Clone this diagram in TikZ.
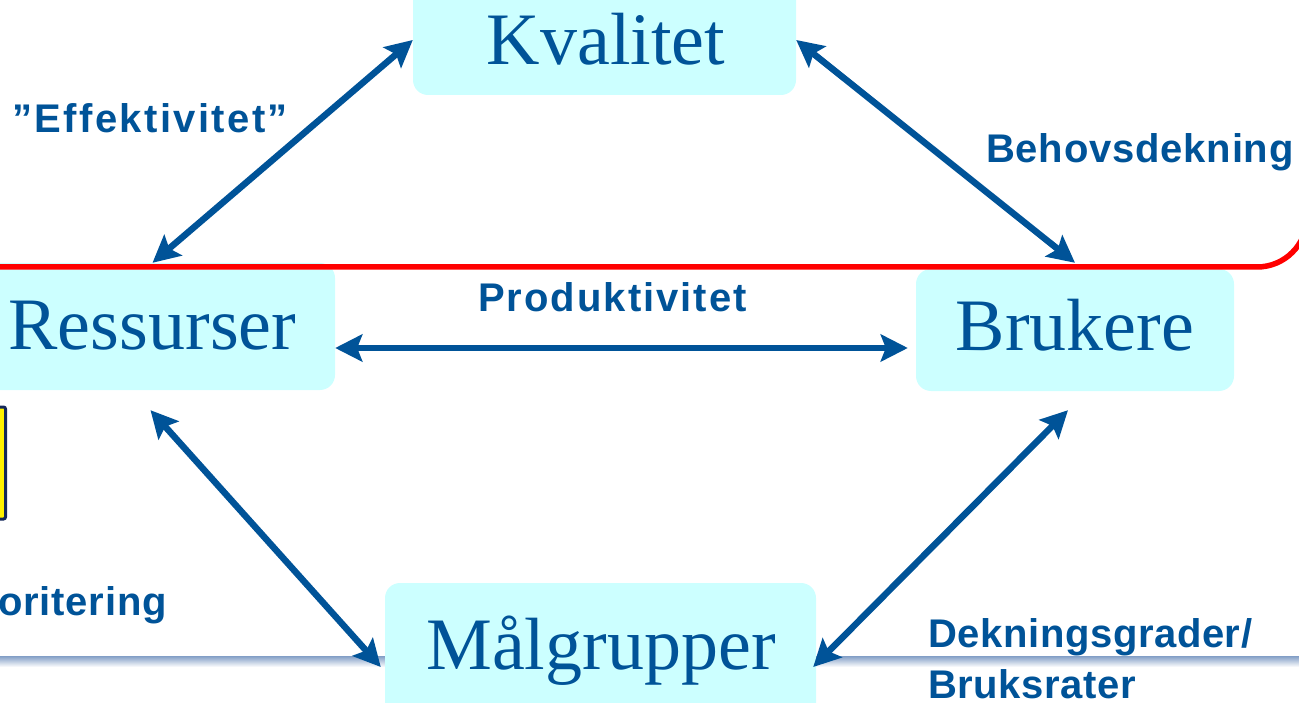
\documentclass[tikz,border=0pt]{standalone}
\usepackage{fontspec}
\setmainfont{Liberation Serif}
\newfontfamily\lblfont{Liberation Sans}
\usetikzlibrary{arrows.meta,calc}
\definecolor{boxc}{RGB}{204,255,255}
\definecolor{blu}{RGB}{0,83,152}
\definecolor{navy}{RGB}{20,40,90}
\definecolor{steel}{RGB}{130,158,198}
\tikzset{
  box/.style={fill=boxc, draw=none, rounded corners=15pt, inner sep=0pt},
  big/.style={text=blu, inner sep=0pt, anchor=base, font=\fontsize{74}{80}\selectfont},
  lbl/.style={text=blu, inner sep=0pt, font=\fontsize{40}{44}\lblfont\bfseries\addfontfeature{LetterSpace=#1}},
  arr/.style={draw=blu, line width=6.5pt, {Stealth[length=27pt,width=27pt,inset=5pt]}-{Stealth[length=27pt,width=27pt,inset=5pt]}},
  redline/.style={draw=red, line width=5.5pt}
}
\begin{document}
\begin{tikzpicture}[x=1pt,y=-1pt]
\useasboundingbox (0,0) rectangle (1299,703);
% bottom gradient rule
\shade[top color=steel, bottom color=white] (0,656) rectangle (1299,667);
% yellow box at left edge
\draw[draw=navy, fill=yellow, line width=3pt, rounded corners=2pt] (-20,407) rectangle (5.5,519);
% boxes
\node[box, minimum width=383pt, minimum height=110pt] (kv) at (604.5,40) {};
\node[box, minimum width=365pt, minimum height=127pt] (res) at (152.5,326.5) {};
\node[box, minimum width=318pt, minimum height=122pt] (bru) at (1075,330) {};
\node[box, minimum width=431pt, minimum height=147pt] (mal) at (600.5,656.5) {};
% box texts
\node[big] (kvt) at (606,65) {Kvalitet};
\node[big] (rest) at (152.5,350) {Ressurser};
\node[big] (brut) at (1075,351) {Brukere};
\node[big] (malt) at (601,669) {Målgrupper};
% red line
\draw[redline, rounded corners=50pt] (-10,267) -- (1307,267) -- (1307,-10);
% arrows
\draw[arr] (res.north) -- (kv.west);
\draw[arr] (kv.east) -- ($(bru.north)+(0,-6)$);
\draw[arr] ($(res.east)+(0,21.5)$) -- ($(bru.west)+(-8,18)$);
\draw[arr] ($(res.south)+(-2,20)$) -- ($(mal.west)+(-4,10.5)$);
\draw[arr] ($(bru.south)+(-7,19)$) -- ($(mal.east)+(-3,10.5)$);
% labels
\node[lbl=6, anchor=base west] (eff) at (12,133) {”Effektivitet”};
\node[lbl=2, anchor=base west] (beh) at (986,163) {Behovsdekning};
\node[lbl=5, anchor=base west] (prod) at (478,312) {Produktivitet};
\node[lbl=2, anchor=base east] (pri) at (167,615) {oritering};
\node[lbl=1.5, anchor=base west] (dek) at (928,647) {Dekningsgrader/};
\node[lbl=1.5, anchor=base west, text depth=0pt] (bruks) at (928,698) {Bruksrater};
\end{tikzpicture}
\end{document}
